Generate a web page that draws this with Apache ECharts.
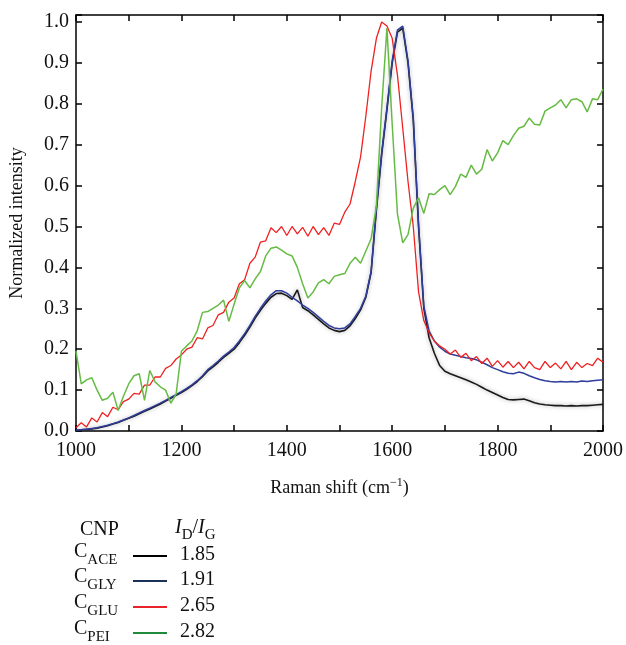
<!DOCTYPE html>
<html>
<head>
<meta charset="utf-8">
<script src="https://cdn.jsdelivr.net/npm/echarts@6/dist/echarts.min.js"></script>
<style>
  html, body { margin: 0; padding: 0; background: #fff; }
  #chart { width: 626px; height: 645px; }
</style>
</head>
<body>
<div id="chart"></div>
<script>
// Raman shift (cm-1), one reading every 10 cm-1
const ramanShift = [
  1000, 1010, 1020, 1030, 1040, 1050, 1060, 1070, 1080, 1090,
  1100, 1110, 1120, 1130, 1140, 1150, 1160, 1170, 1180, 1190,
  1200, 1210, 1220, 1230, 1240, 1250, 1260, 1270, 1280, 1290,
  1300, 1310, 1320, 1330, 1340, 1350, 1360, 1370, 1380, 1390,
  1400, 1410, 1420, 1430, 1440, 1450, 1460, 1470, 1480, 1490,
  1500, 1510, 1520, 1530, 1540, 1550, 1560, 1570, 1580, 1590,
  1600, 1610, 1620, 1630, 1640, 1650, 1660, 1670, 1680, 1690,
  1700, 1710, 1720, 1730, 1740, 1750, 1760, 1770, 1780, 1790,
  1800, 1810, 1820, 1830, 1840, 1850, 1860, 1870, 1880, 1890,
  1900, 1910, 1920, 1930, 1940, 1950, 1960, 1970, 1980, 1990,
  2000
];

// C_ACE
const ace = [
  0.002, 0.003, 0.004, 0.005, 0.007, 0.010, 0.013, 0.017, 0.021, 0.026,
  0.031, 0.036, 0.042, 0.048, 0.054, 0.060, 0.066, 0.073, 0.080, 0.087,
  0.094, 0.102, 0.111, 0.121, 0.133, 0.147, 0.157, 0.168, 0.180, 0.190,
  0.200, 0.216, 0.234, 0.254, 0.276, 0.295, 0.312, 0.327, 0.336, 0.337,
  0.331, 0.322, 0.345, 0.302, 0.294, 0.284, 0.273, 0.262, 0.252, 0.246,
  0.243, 0.246, 0.257, 0.275, 0.296, 0.327, 0.388, 0.540, 0.675, 0.785,
  0.900, 0.975, 0.985, 0.900, 0.760, 0.500, 0.300, 0.228, 0.190, 0.160,
  0.146, 0.140, 0.135, 0.130, 0.125, 0.120, 0.114, 0.107, 0.100, 0.094,
  0.088, 0.082, 0.077, 0.076, 0.077, 0.078, 0.074, 0.069, 0.066, 0.064,
  0.063, 0.062, 0.062, 0.061, 0.062, 0.061, 0.062, 0.062, 0.063, 0.064,
  0.065
];

// C_GLY
const gly = [
  0.002, 0.003, 0.004, 0.006, 0.008, 0.011, 0.014, 0.018, 0.022, 0.027,
  0.032, 0.038, 0.044, 0.050, 0.056, 0.062, 0.068, 0.075, 0.082, 0.089,
  0.096, 0.104, 0.113, 0.123, 0.135, 0.150, 0.160, 0.171, 0.183, 0.193,
  0.204, 0.220, 0.238, 0.258, 0.280, 0.300, 0.318, 0.333, 0.343, 0.343,
  0.337, 0.327, 0.318, 0.308, 0.300, 0.290, 0.279, 0.268, 0.258, 0.252,
  0.250, 0.252, 0.262, 0.280, 0.300, 0.330, 0.390, 0.545, 0.680, 0.790,
  0.905, 0.980, 0.990, 0.905, 0.765, 0.505, 0.305, 0.245, 0.220, 0.205,
  0.195, 0.188, 0.185, 0.182, 0.179, 0.177, 0.174, 0.168, 0.162, 0.155,
  0.150, 0.145, 0.141, 0.140, 0.144, 0.141, 0.135, 0.130, 0.126, 0.123,
  0.121, 0.120, 0.121, 0.120, 0.121, 0.120, 0.122, 0.121, 0.123, 0.124,
  0.125
];

// C_GLU
const glu = [
  0.008, 0.020, 0.010, 0.032, 0.022, 0.045, 0.035, 0.058, 0.052, 0.072,
  0.078, 0.092, 0.090, 0.112, 0.112, 0.132, 0.132, 0.153, 0.160, 0.176,
  0.186, 0.200, 0.205, 0.228, 0.225, 0.252, 0.258, 0.284, 0.290, 0.315,
  0.325, 0.360, 0.370, 0.410, 0.425, 0.462, 0.465, 0.497, 0.485, 0.500,
  0.478, 0.500, 0.482, 0.498, 0.476, 0.500, 0.480, 0.497, 0.478, 0.508,
  0.505, 0.535, 0.555, 0.610, 0.670, 0.770, 0.880, 0.960, 1.000, 0.990,
  0.960, 0.870, 0.740, 0.610, 0.500, 0.340, 0.270, 0.240, 0.220, 0.208,
  0.200, 0.188, 0.198, 0.180, 0.190, 0.172, 0.182, 0.165, 0.178, 0.158,
  0.172, 0.156, 0.170, 0.155, 0.168, 0.152, 0.170, 0.155, 0.150, 0.170,
  0.155, 0.166, 0.152, 0.170, 0.150, 0.168, 0.155, 0.165, 0.160, 0.178,
  0.168
];

// C_PEI
const pei = [
  0.195, 0.115, 0.125, 0.130, 0.100, 0.075, 0.080, 0.095, 0.050, 0.085,
  0.115, 0.135, 0.140, 0.075, 0.148, 0.120, 0.108, 0.100, 0.068, 0.090,
  0.195, 0.208, 0.220, 0.245, 0.290, 0.292, 0.300, 0.308, 0.320, 0.268,
  0.310, 0.350, 0.368, 0.350, 0.372, 0.390, 0.428, 0.447, 0.450, 0.442,
  0.433, 0.428, 0.400, 0.360, 0.325, 0.340, 0.362, 0.370, 0.360, 0.378,
  0.382, 0.385, 0.410, 0.425, 0.410, 0.440, 0.470, 0.550, 0.790, 0.985,
  0.750, 0.530, 0.460, 0.480, 0.545, 0.570, 0.532, 0.580, 0.578, 0.590,
  0.600, 0.578, 0.598, 0.628, 0.620, 0.650, 0.628, 0.640, 0.688, 0.660,
  0.680, 0.710, 0.700, 0.722, 0.740, 0.745, 0.765, 0.750, 0.748, 0.782,
  0.790, 0.797, 0.810, 0.790, 0.810, 0.812, 0.805, 0.780, 0.812, 0.810,
  0.836
];

// legend table
const cnpNames = ["ACE", "GLY", "GLU", "PEI"];
const idIgRatios = ["1.85", "1.91", "2.65", "2.82"];
const curveColors = ["#1a1a1a", "#2e3c9c", "#f02020", "#66bb44"];
const keyColors = ["#000000", "#1b3158", "#e8242a", "#1f8a3c"];

const serif = "'Liberation Serif', 'DejaVu Serif', serif";

const chart = echarts.init(document.getElementById("chart"));

const pairs = (ys) => ramanShift.map((x, i) => [x, ys[i]]);
const allCurves = [ace, gly, glu, pei];

const series = allCurves.map((ys, k) => ({
  type: "line",
  name: cnpNames[k],
  data: pairs(ys),
  showSymbol: false,
  animation: false,
  z: 2 + k,
  lineStyle: k === 0
    ? { color: curveColors[k], width: 1.6, shadowColor: "rgba(0,0,0,0.35)", shadowBlur: 4 }
    : { color: curveColors[k], width: k === 2 ? 1.3 : 1.5 },
}));

// legend drawn as a small table under the plot
const rowY = [553, 578, 604, 630];
const graphic = [
  {
    type: "text", left: 80, top: 520,
    style: { text: "CNP", font: "20px " + serif, fill: "#111" },
  },
  {
    type: "text", left: 175, top: 518,
    style: {
      text: "{i|I}{s|D}{n|/}{i|I}{s|G}",
      fill: "#111",
      rich: {
        i: { fontFamily: serif, fontSize: 20, fontStyle: "italic", verticalAlign: "bottom", lineHeight: 24 },
        n: { fontFamily: serif, fontSize: 20, verticalAlign: "bottom", lineHeight: 24 },
        s: { fontFamily: serif, fontSize: 15, verticalAlign: "bottom", lineHeight: 20, padding: [0, 0, -5, 0] },
      },
    },
  },
];
cnpNames.forEach((nm, k) => {
  graphic.push({
    type: "text", left: 74, top: rowY[k] - 11,
    style: {
      text: "{c|C}{s|" + nm + "}",
      fill: "#111",
      rich: {
        c: { fontFamily: serif, fontSize: 20, verticalAlign: "bottom", lineHeight: 24 },
        s: { fontFamily: serif, fontSize: 15, verticalAlign: "bottom", lineHeight: 19, padding: [0, 0, -6, 0] },
      },
    },
  });
  graphic.push({
    type: "line",
    shape: { x1: 133, y1: rowY[k] + 3, x2: 167, y2: rowY[k] + 3 },
    style: { stroke: keyColors[k], lineWidth: 2 },
  });
  graphic.push({
    type: "text", left: 180, top: rowY[k] - 8,
    style: { text: idIgRatios[k], font: "20px " + serif, fill: "#111" },
  });
});

const isTenth = (v) => Math.abs(v * 10 - Math.round(v * 10)) < 1e-6;

chart.setOption({
  backgroundColor: "#fff",
  animation: false,
  grid: { left: 75, right: 22, top: 15, bottom: 214 },
  xAxis: [
    {
      type: "value", min: 1000, max: 2000, interval: 100,
      name: "Raman shift (cm{sup|−1})",
      nameLocation: "middle", nameGap: 46,
      nameTextStyle: {
        fontFamily: serif, fontSize: 18, color: "#111",
        rich: { sup: { fontFamily: serif, fontSize: 12, verticalAlign: "top", padding: [0, 0, 10, 0] } },
      },
      axisLine: { onZero: false, lineStyle: { color: "#000", width: 1.5 } },
      axisTick: { inside: true, length: 6, lineStyle: { color: "#000", width: 1.5 } },
      axisLabel: {
        margin: 10, fontFamily: serif, fontSize: 20, color: "#111",
        formatter: (v) => (v % 200 === 0 ? String(v) : ""),
      },
      splitLine: { show: false },
    },
    {
      type: "value", position: "top", min: 1000, max: 2000, interval: 100,
      axisLine: { onZero: false, lineStyle: { color: "#000", width: 1.5 } },
      axisTick: { inside: true, length: 6, lineStyle: { color: "#000", width: 1.5 } },
      axisLabel: { show: false },
      splitLine: { show: false },
    },
  ],
  yAxis: [
    {
      type: "value", min: 0, max: 1.017, interval: 0.1,
      name: "Normalized intensity",
      nameLocation: "middle", nameGap: 50,
      nameTextStyle: { fontFamily: serif, fontSize: 18, color: "#111" },
      axisLine: { onZero: false, lineStyle: { color: "#000", width: 1.5 } },
      axisTick: { inside: true, length: 6, lineStyle: { color: "#000", width: 1.5 } },
      axisLabel: {
        margin: 7, fontFamily: serif, fontSize: 20, color: "#111",
        formatter: (v) => (isTenth(v) ? v.toFixed(1) : ""),
      },
      splitLine: { show: false },
    },
    {
      type: "value", position: "right", min: 0, max: 1.017, interval: 0.1,
      axisLine: { onZero: false, lineStyle: { color: "#000", width: 1.5 } },
      axisTick: { inside: true, length: 6, lineStyle: { color: "#000", width: 1.5 } },
      axisLabel: { show: false },
      splitLine: { show: false },
    },
  ],
  series: series,
  graphic: graphic,
});
</script>
</body>
</html>
